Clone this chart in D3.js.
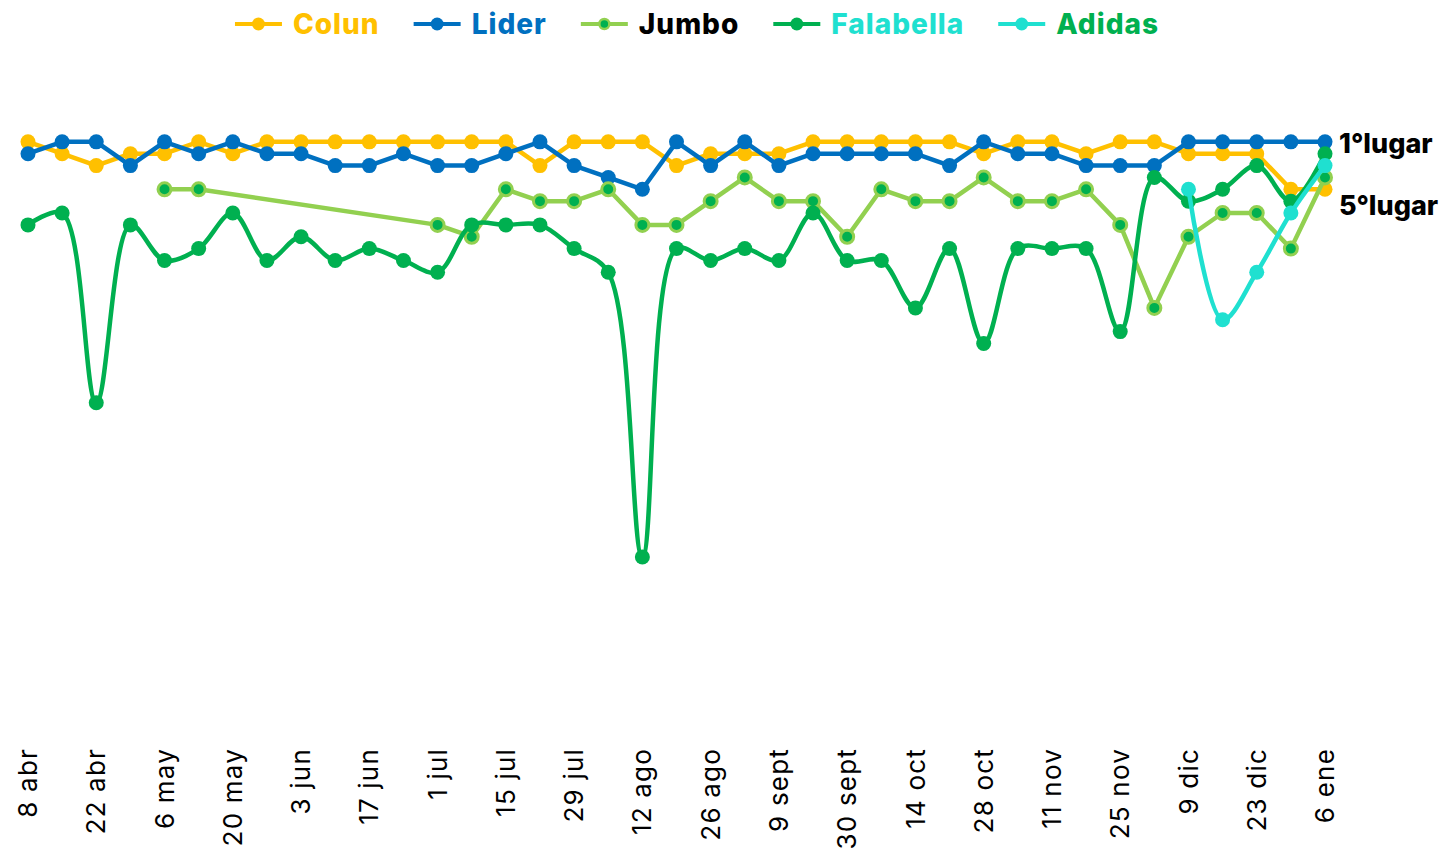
<!DOCTYPE html>
<html>
<head>
<meta charset="utf-8">
<script src="https://cdn.jsdelivr.net/npm/d3@7"></script>
<style>
  body { margin: 0; background: #fff; }
  svg { display: block; font-family: "Inter", "Open Sans", sans-serif; }
</style>
</head>
<body>
<svg width="1442" height="857"></svg>
<script>
const weeks = ["8 abr","15 abr","22 abr","29 abr","6 may","13 may","20 may","27 may","3 jun","10 jun",
  "17 jun","24 jun","1 jul","8 jul","15 jul","22 jul","29 jul","5 ago","12 ago","19 ago",
  "26 ago","2 sept","9 sept","23 sept","30 sept","7 oct","14 oct","21 oct","28 oct","4 nov",
  "11 nov","18 nov","25 nov","2 dic","9 dic","16 dic","23 dic","30 dic","6 ene"];

// ranking (1 = primer lugar), null = sin dato
const colun = [1,2,3,2,2,1,2,1,1,1, 1,1,1,1,1,3,1,1,1,3, 2,2,2,1,1,1,1,1,2,1, 1,2,1,1,2,2,2,5,5];
const lider = [2,1,1,3,1,2,1,2,2,3, 3,2,3,3,2,1,3,4,5,1, 3,1,3,2,2,2,2,3,1,2, 2,3,3,3,1,1,1,1,1];
const jumbo = [null,null,null,null,5,5,null,null,null,null, null,null,8,9,5,6,6,5,8,8,
  6,4,6,6,9,5,6,6,4,6, 6,5,8,15,9,7,7,10,4];
const falabella = [8,7,23,8,11,10,7,11,9,11, 10,11,12,8,8,8,10,12,36,10,
  11,10,11,7,11,11,15,10,18,10, 10,10,17,4,6,5,3,6,2];
const adidas = [null,null,null,null,null,null,null,null,null,null, null,null,null,null,null,null,null,null,null,null,
  null,null,null,null,null,null,null,null,null,null, null,null,null,null,5,16,12,7,3];

const series = [
  { name: "Colun", values: colun, color: "#FFC000", fill: "#FFC000", label: "#FFC000", smooth: false },
  { name: "Lider", values: lider, color: "#0070C0", fill: "#0070C0", label: "#0070C0", smooth: false },
  { name: "Jumbo", values: jumbo, color: "#92D050", fill: "#00B050", label: "#000000", smooth: false },
  { name: "Falabella", values: falabella, color: "#00B050", fill: "#00B050", label: "#1FE0D0", smooth: true },
  { name: "Adidas", values: adidas, color: "#1FE0D0", fill: "#1FE0D0", label: "#00B050", smooth: true }
];

const rankLabels = [{ text: "1°lugar", rank: 1, off: 2 }, { text: "5°lugar", rank: 5, off: 16 }];

const svg = d3.select("svg");

const x = d3.scalePoint().domain(weeks).range([28, 1325]);
const y = d3.scaleLinear().domain([0, 50]).range([130, 723]);

// x labels, one every two weeks
svg.append("g")
  .selectAll("text")
  .data(weeks.filter((d, i) => i % 2 === 0))
  .join("text")
  .attr("transform", d => `translate(${x(d)},748) rotate(-90)`)
  .attr("text-anchor", "end")
  .attr("dy", "0.35em")
  .attr("font-size", 26)
  .attr("letter-spacing", 1.2)
  .attr("fill", "#000")
  .text(d => d);

const line = d3.line()
  .x(d => x(d.w))
  .y(d => y(d.v));

series.forEach(s => {
  const pts = s.values.map((v, i) => ({ w: weeks[i], v })).filter(d => d.v != null);
  const g = svg.append("g");
  g.append("path")
    .datum(pts)
    .attr("fill", "none")
    .attr("stroke", s.color)
    .attr("stroke-width", 4.5)
    .attr("stroke-linejoin", "round")
    .attr("d", line.curve(s.smooth ? d3.curveCatmullRom.alpha(0.5) : d3.curveLinear));
  g.selectAll("circle")
    .data(pts)
    .join("circle")
    .attr("cx", d => x(d.w))
    .attr("cy", d => y(d.v))
    .attr("r", s.name === "Jumbo" ? 6.5 : 7.5)
    .attr("fill", s.fill)
    .attr("stroke", s.name === "Jumbo" ? s.color : "none")
    .attr("stroke-width", 3);
});

// rank annotations on the right
svg.append("g")
  .selectAll("text")
  .data(rankLabels)
  .join("text")
  .attr("x", 1339)
  .attr("y", d => y(d.rank) + d.off)
  .attr("dy", "0.35em")
  .attr("font-size", 27)
  .attr("font-weight", 800)
  .attr("fill", "#000")
  .text(d => d.text);

// legend
const legend = svg.append("g");
let lx = 0;
series.forEach(s => {
  const item = legend.append("g").attr("transform", `translate(${lx},0)`);
  item.append("line")
    .attr("x1", 0).attr("x2", 47).attr("y1", 0).attr("y2", 0)
    .attr("stroke", s.color).attr("stroke-width", 4);
  item.append("circle")
    .attr("cx", 23.5).attr("cy", 0).attr("r", s.name === "Jumbo" ? 5 : 6.5)
    .attr("fill", s.fill)
    .attr("stroke", s.name === "Jumbo" ? s.color : "none")
    .attr("stroke-width", 2.5);
  const t = item.append("text")
    .attr("x", 58).attr("dy", "0.35em")
    .attr("font-size", 28).attr("font-weight", 800)
    .attr("letter-spacing", 1)
    .attr("fill", s.label)
    .text(s.name);
  lx += 58 + t.node().getComputedTextLength() + 34;
});
const legendW = lx - 34;
legend.attr("transform", `translate(${697 - legendW / 2},24)`);
</script>
</body>
</html>
